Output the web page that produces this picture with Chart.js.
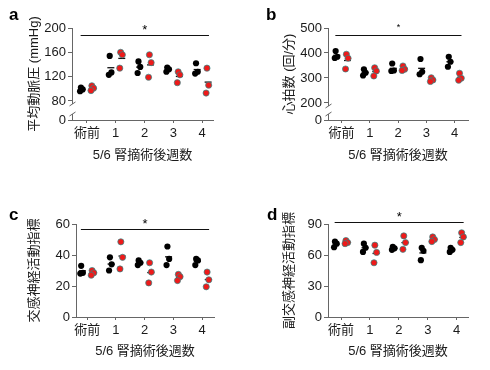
<!DOCTYPE html>
<html><head><meta charset="utf-8">
<script src="https://cdn.jsdelivr.net/npm/chart.js@4"></script>
<style>
html,body{margin:0;padding:0;background:#fff;}
#wrap{position:relative;width:490px;height:370px;overflow:hidden;background:#fff;}
.panel{position:absolute;width:245px;height:185px;}
</style></head><body>
<div id="wrap">
 <div class="panel" style="left:0;top:0"><canvas id="ca" width="245" height="185"></canvas></div>
 <div class="panel" style="left:245px;top:0"><canvas id="cb" width="245" height="185"></canvas></div>
 <div class="panel" style="left:0;top:185px"><canvas id="cc" width="245" height="185"></canvas></div>
 <div class="panel" style="left:245px;top:185px"><canvas id="cd" width="245" height="185"></canvas></div>
</div>
<script>
// ---- data ----
const categories = ['術前', '1', '2', '3', '4'];
const xTitle = '5/6 腎摘術後週数';

const mapTicks = [0, 80, 120, 160, 200];
const mapBlack = [[102, 99, 96], [154, 127, 123], [145, 136, 126], [135, 132, 128], [142, 128, 125]];
const mapRed   = [[105, 101, 97], [160, 156, 134], [156, 143, 119], [128, 123, 110], [134, 106, 93]];

const hrTicks = [0, 200, 300, 400, 500];
const hrBlack = [[408, 385, 380], [335, 321, 310], [358, 330, 328], [376, 325, 315], [385, 365, 345]];
const hrRed   = [[395, 379, 336], [341, 328, 308], [348, 335, 330], [301, 292, 286], [319, 299, 291]];

const snaTicks = [0, 20, 40, 60];
const snaBlack = [[33, 28.5, 28], [38.5, 34, 30], [36.5, 35, 33.5], [45.5, 37.5, 33.5], [37.5, 36.5, 33.5]];
const snaRed   = [[30, 28.5, 27], [48.5, 38.5, 31], [35, 29, 22], [27.5, 26, 23.5], [29, 24, 19.5]];

const psnaTicks = [0, 30, 60, 90];
const psnaBlack = [[73, 71, 67.5], [71, 67, 63], [68, 66.5, 65], [67, 64, 55], [67, 65, 63]];
const psnaRed   = [[74, 72, 71], [69.5, 62.5, 52.5], [78.5, 72, 65.5], [77.5, 75, 73], [81.5, 77.5, 72]];

// ---- broken-axis scale ----
class BrokenLinearScale extends Chart.LinearScale {
  getPixelForValue(value) {
    const b = this.options.brk;
    if (!b || value === null || value === undefined) return super.getPixelForValue(value);
    let f;
    if (value >= b.from) f = b.frac + (value - b.from) / (this.max - b.from) * (1 - b.frac);
    else f = (value - this.min) / (b.from - this.min) * b.frac;
    return this.getPixelForDecimal(f);
  }
  getValueForPixel(pixel) {
    const b = this.options.brk;
    if (!b) return super.getValueForPixel(pixel);
    const f = this.getDecimalForPixel(pixel);
    if (f >= b.frac) return b.from + (f - b.frac) / (1 - b.frac) * (this.max - b.from);
    return this.min + f / b.frac * (b.from - this.min);
  }
}
BrokenLinearScale.id = 'brokenLinear';
BrokenLinearScale.defaults = {};
Chart.register(BrokenLinearScale);

const FONT = '"Liberation Sans", Arial, "Noto Sans CJK JP", sans-serif';
const TXT = '#1a1a1a';
const AX = '#666';
const jit = [-0.02, 0.04, -0.05];
const mean = g => g.reduce((a, b) => a + b, 0) / g.length;

const decor = {
  id: 'decor',
  afterDraw(chart, args, o) {
    const {ctx, chartArea, scales: {x, y}} = chart;
    ctx.save();
    // axis break
    const b = y.options.brk;
    if (b) {
      const ax = Math.round(chartArea.left) + 0.5;
      const yT = y.getPixelForValue(b.from) + 3;
      const yB = chartArea.bottom - 6;
      ctx.fillStyle = '#fff';
      ctx.fillRect(ax - 3, yT, 6, yB - yT);
      ctx.strokeStyle = AX; ctx.lineWidth = 1;
      ctx.beginPath();
      ctx.moveTo(ax - 3, yT + 2); ctx.lineTo(ax + 3, yT - 2);
      ctx.moveTo(ax - 3, yB + 2); ctx.lineTo(ax + 3, yB - 2);
      ctx.stroke();
    }
    // panel letter
    ctx.fillStyle = '#000';
    ctx.font = 'bold 17px ' + FONT;
    ctx.textAlign = 'left'; ctx.textBaseline = 'alphabetic';
    ctx.fillText(o.letter, o.lx, o.ly);
    // significance bar
    const yy = Math.round(y.getPixelForValue(o.sigY)) + 0.5;
    ctx.strokeStyle = '#111'; ctx.lineWidth = 1;
    ctx.beginPath();
    ctx.moveTo(x.getPixelForValue(o.sigX0), yy);
    ctx.lineTo(x.getPixelForValue(o.sigX1), yy);
    ctx.stroke();
    ctx.font = o.starSize + 'px ' + FONT;
    ctx.textAlign = 'center';
    ctx.fillText('*', x.getPixelForValue((o.sigX0 + o.sigX1) / 2), yy + o.starDy);
    ctx.restore();
  }
};

function makeChart(id, c) {
  const black = c.black.flatMap((g, i) => g.map((v, j) => ({x: i - 0.19 + jit[j], y: v})));
  const red = c.red.flatMap((g, i) => g.map((v, j) => ({x: i + 0.19 + jit[j], y: v})));
  const means = c.black.map((g, i) => ({x: i - 0.17, y: mean(g)}))
    .concat(c.red.map((g, i) => ({x: i + 0.21, y: mean(g)})));
  new Chart(document.getElementById(id), {
    type: 'scatter',
    data: {
      datasets: [
        {data: black, backgroundColor: '#000', borderColor: '#000', borderWidth: 0, pointRadius: 3.1},
        {data: red, backgroundColor: '#ee1a1a', borderColor: 'rgba(40,140,140,0.85)', borderWidth: 0.8, pointRadius: 3.1},
        {data: means, pointStyle: 'line', borderColor: '#111', borderWidth: 1.3, pointRadius: 3.5, backgroundColor: '#111'}
      ]
    },
    options: {
      responsive: false,
      animation: false,
      events: [],
      layout: {padding: {left: 0, right: c.pr, top: c.pt, bottom: 0}},
      plugins: {
        legend: {display: false}, tooltip: {enabled: false},
        decor: {letter: c.letter, lx: c.lx, ly: c.ly, sigY: c.sigY, sigX0: -0.22, sigX1: 4.24, starSize: c.starSize, starDy: c.starDy}
      },
      scales: {
        x: {
          type: 'linear', min: c.xmin, max: c.xmax,
          afterBuildTicks: s => { s.ticks = categories.map((_, i) => ({value: i})); },
          afterFit: s => { s.height = c.xh; },
          ticks: {callback: v => categories[v], font: {family: FONT, size: 13}, color: TXT, padding: 3, autoSkip: false, maxRotation: 0},
          grid: {drawOnChartArea: false, drawTicks: true, tickLength: 3, color: AX, lineWidth: 1},
          border: {display: true, color: AX, width: 1},
          title: {display: true, text: xTitle, font: {family: FONT, size: 13}, color: TXT, padding: {top: 0, bottom: c.xtpb}}
        },
        y: {
          type: c.brk ? 'brokenLinear' : 'linear', min: c.ymin, max: c.ymax, brk: c.brk,
          afterBuildTicks: s => { s.ticks = c.ticks.map(v => ({value: v})); },
          afterFit: s => { s.width = c.yw; },
          ticks: {callback: v => String(v), font: {family: FONT, size: 13}, color: TXT, padding: 2},
          grid: {drawOnChartArea: false, drawTicks: true, tickLength: 4, color: AX, lineWidth: 1},
          border: {display: true, color: AX, width: 1},
          title: {display: true, text: c.ytitle, font: {family: FONT, size: 13}, color: TXT, padding: {top: c.ytpt, bottom: 0}}
        }
      }
    },
    plugins: [decor]
  });
}

makeChart('ca', {black: mapBlack, red: mapRed, ticks: mapTicks, ymin: 0, ymax: 200, brk: {from: 80, frac: 0.207},
  ytitle: '平均動脈圧 (mmHg)', yw: 72, pr: 32, pt: 28, xh: 65, xtpb: 22, ytpt: 27, xmin: -0.52, xmax: 4.38,
  letter: 'a', lx: 9, ly: 20, sigY: 188.5, starSize: 13, starDy: -1.5});
makeChart('cb', {black: hrBlack, red: hrRed, ticks: hrTicks, ymin: 0, ymax: 500, brk: {from: 200, frac: 0.185},
  ytitle: '心拍数 (回/分)', yw: 83, pr: 22, pt: 28, xh: 65, xtpb: 22, ytpt: 37, xmin: -0.48, xmax: 4.47,
  letter: 'b', lx: 21, ly: 20, sigY: 472, starSize: 9, starDy: -6});
makeChart('cc', {black: snaBlack, red: snaRed, ticks: snaTicks, ymin: 0, ymax: 60,
  ytitle: '交感神経活動指標', yw: 76, pr: 31, pt: 39, xh: 53, xtpb: 11, ytpt: 27, xmin: -0.39, xmax: 4.41,
  letter: 'c', lx: 9, ly: 35, sigY: 56.8, starSize: 13, starDy: -1.5});
makeChart('cd', {black: psnaBlack, red: psnaRed, ticks: psnaTicks, ymin: 0, ymax: 90,
  ytitle: '副交感神経活動指標', yw: 83, pr: 22, pt: 39, xh: 53, xtpb: 11, ytpt: 37, xmin: -0.45, xmax: 4.39,
  letter: 'd', lx: 22, ly: 35, sigY: 92, starSize: 13, starDy: -1.5});
</script>
</body></html>
